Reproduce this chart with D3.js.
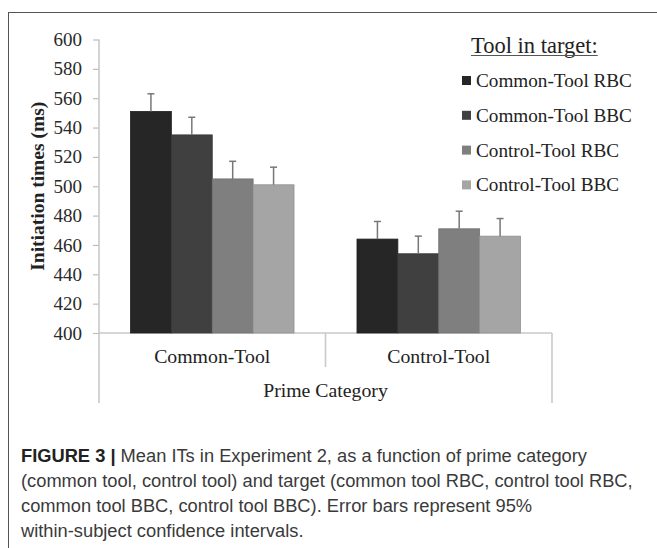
<!DOCTYPE html>
<html>
<head>
<meta charset="utf-8">
<script src="https://cdn.jsdelivr.net/npm/d3@7"></script>
<style>
    html, body { margin: 0; padding: 0; background: #fff; }
    svg { display: block; }
    .serif { font-family: "Liberation Serif", "Times New Roman", serif; }
    .caption { font-family: "Liberation Sans", Arial, sans-serif; font-size: 18.3px; fill: #3a3a3a; }
</style>
</head>
<body>
<svg id="chart" width="657" height="548"></svg>
<script>
// Chart data
const primeCategories = ["Common-Tool", "Control-Tool"];
const targetSeries = ["Common-Tool RBC", "Common-Tool BBC", "Control-Tool RBC", "Control-Tool BBC"];
const commonToolPrime = [551, 535, 505, 501];
const controlToolPrime = [464, 454, 471, 466];
const commonToolCI = [12, 12, 12, 12];
const controlToolCI = [12, 12, 12, 12];
const yTicks = [400, 420, 440, 460, 480, 500, 520, 540, 560, 580, 600];
const seriesColors = ["#262626", "#404040", "#7f7f7f", "#a5a5a5"];

const captionLines = [
    [{ t: "FIGURE 3 | ", bold: true }, { t: "Mean ITs in Experiment 2, as a function of prime category" }],
    [{ t: "(common tool, control tool) and target (common tool RBC, control tool RBC," }],
    [{ t: "common tool BBC, control tool BBC). Error bars represent 95%" }],
    [{ t: "within-subject confidence intervals." }]
];

const values = [commonToolPrime, controlToolPrime];
const cis = [commonToolCI, controlToolCI];
const rows = primeCategories.map((c, i) => ({
    category: c,
    bars: targetSeries.map((s, j) => ({ series: s, value: values[i][j], ci: cis[i][j] }))
}));

const svg = d3.select("#chart");

// outer figure frame (runs off the right and bottom edges)
svg.append("rect")
    .attr("x", 8.5).attr("y", 12.5)
    .attr("width", 700).attr("height", 600)
    .attr("fill", "none")
    .attr("stroke", "#555")
    .attr("stroke-width", 1);

const plotLeft = 99, plotRight = 552, plotTop = 39.5, plotBottom = 333;

const y = d3.scaleLinear().domain([400, 600]).range([plotBottom, plotTop]);
const x0 = d3.scaleBand().domain(primeCategories).range([plotLeft, plotRight]).padding(0);
const x1 = d3.scaleBand().domain(targetSeries).range([0, x0.bandwidth()])
    .paddingInner(0).paddingOuter(0.77);
const color = d3.scaleOrdinal().domain(targetSeries).range(seriesColors);

// y axis
const yAxis = svg.append("g")
    .attr("transform", `translate(${plotLeft},0)`)
    .call(d3.axisLeft(y).tickValues(yTicks).tickSize(6).tickPadding(11).tickSizeOuter(0));
yAxis.select(".domain").remove();
yAxis.selectAll(".tick line").attr("stroke", "#bdbdbd").attr("stroke-width", 1.2);
yAxis.selectAll(".tick text")
    .attr("class", "serif")
    .attr("font-size", "19px")
    .attr("fill", "#2a2a2a");

// axis lines
const axisColor = "#c9c9c9";
svg.append("line")
    .attr("x1", plotLeft).attr("x2", plotLeft).attr("y1", plotTop).attr("y2", 403)
    .attr("stroke", axisColor).attr("stroke-width", 1.6);
svg.append("line")
    .attr("x1", plotLeft).attr("x2", plotRight).attr("y1", plotBottom).attr("y2", plotBottom)
    .attr("stroke", axisColor).attr("stroke-width", 1.6);
// divider between categories stops above the outer label
svg.append("line")
    .attr("x1", plotLeft + x0.bandwidth()).attr("x2", plotLeft + x0.bandwidth())
    .attr("y1", plotBottom).attr("y2", 367)
    .attr("stroke", axisColor).attr("stroke-width", 1.6);
svg.append("line")
    .attr("x1", plotRight).attr("x2", plotRight)
    .attr("y1", plotBottom).attr("y2", 403)
    .attr("stroke", axisColor).attr("stroke-width", 1.6);

// bars
const groups = svg.append("g").selectAll("g")
    .data(rows)
    .enter().append("g")
    .attr("transform", d => `translate(${x0(d.category)},0)`);

groups.selectAll("rect")
    .data(d => d.bars)
    .enter().append("rect")
    .attr("x", d => x1(d.series))
    .attr("y", d => y(d.value))
    .attr("width", x1.bandwidth())
    .attr("height", d => y(400) - y(d.value))
    .attr("fill", d => color(d.series))
    .attr("stroke", d => d3.color(color(d.series)).darker(0.35))
    .attr("stroke-width", 0.8);

// error bars (upper half only)
const errColor = "#777";
groups.selectAll("line.err")
    .data(d => d.bars)
    .enter().append("line")
    .attr("class", "err")
    .attr("x1", d => x1(d.series) + x1.bandwidth() / 2)
    .attr("x2", d => x1(d.series) + x1.bandwidth() / 2)
    .attr("y1", d => y(d.value))
    .attr("y2", d => y(d.value + d.ci))
    .attr("stroke", errColor).attr("stroke-width", 1.5);
groups.selectAll("line.cap")
    .data(d => d.bars)
    .enter().append("line")
    .attr("class", "cap")
    .attr("x1", d => x1(d.series) + x1.bandwidth() / 2 - 3.5)
    .attr("x2", d => x1(d.series) + x1.bandwidth() / 2 + 3.5)
    .attr("y1", d => y(d.value + d.ci))
    .attr("y2", d => y(d.value + d.ci))
    .attr("stroke", errColor).attr("stroke-width", 1.5);

// category labels
svg.append("g").selectAll("text")
    .data(primeCategories)
    .enter().append("text")
    .attr("class", "serif")
    .attr("x", d => x0(d) + x0.bandwidth() / 2)
    .attr("y", 363)
    .attr("text-anchor", "middle")
    .attr("font-size", "19.8px")
    .attr("fill", "#222")
    .text(d => d);

svg.append("text")
    .attr("class", "serif")
    .attr("x", (plotLeft + plotRight) / 2)
    .attr("y", 397)
    .attr("text-anchor", "middle")
    .attr("font-size", "19.8px")
    .attr("fill", "#222")
    .text("Prime Category");

// y axis title
svg.append("text")
    .attr("class", "serif")
    .attr("transform", `translate(44,${(plotTop + plotBottom) / 2}) rotate(-90)`)
    .attr("text-anchor", "middle")
    .attr("font-size", "19.5px")
    .attr("font-weight", "bold")
    .attr("fill", "#222")
    .text("Initiation times (ms)");

// legend
const legendTitle = svg.append("text")
    .attr("class", "serif")
    .attr("x", 471).attr("y", 52.5)
    .attr("font-size", "22.5px")
    .attr("fill", "#222")
    .text("Tool in target:");
const tb = legendTitle.node().getBBox();
svg.append("line")
    .attr("x1", tb.x).attr("x2", tb.x + tb.width)
    .attr("y1", 55.5).attr("y2", 55.5)
    .attr("stroke", "#555").attr("stroke-width", 1);

const legend = svg.append("g").selectAll("g")
    .data(targetSeries)
    .enter().append("g")
    .attr("transform", (d, i) => `translate(462,${80.5 + i * 34.8})`);
legend.append("rect")
    .attr("x", 0).attr("y", -4.5)
    .attr("width", 9).attr("height", 9)
    .attr("fill", d => color(d));
legend.append("text")
    .attr("class", "serif")
    .attr("x", 14).attr("y", 6.5)
    .attr("font-size", "19.2px")
    .attr("fill", "#222")
    .text(d => d);

// caption
const cap = svg.append("g");
captionLines.forEach((parts, i) => {
    const t = cap.append("text")
        .attr("class", "caption")
        .attr("x", 21)
        .attr("y", 462 + i * 25);
    parts.forEach(p => {
        t.append("tspan")
            .attr("font-weight", p.bold ? "bold" : "normal")
            .attr("fill", p.bold ? "#222" : null)
            .text(p.t);
    });
});
</script>
</body>
</html>
